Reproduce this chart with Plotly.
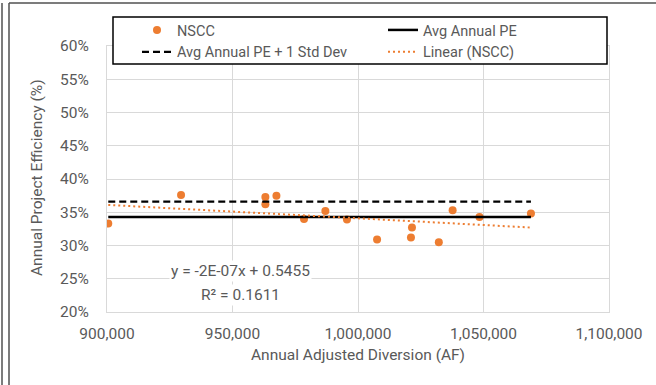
import plotly.graph_objects as go

# ---- data ----
x_nscc = [900500, 929500, 963100, 963100, 967500, 978500, 987000, 995600,
          1007600, 1021500, 1021100, 1032200, 1037700, 1048400, 1068900]
y_nscc = [0.333, 0.376, 0.373, 0.362, 0.375, 0.340, 0.352, 0.339,
          0.309, 0.327, 0.312, 0.305, 0.353, 0.343, 0.348]

avg_x = [900500, 1068900]
avg_pe = [0.343, 0.343]
avg_sd_x = [900500, 1068900]
avg_pe_sd = [0.366, 0.366]
trend_x = [900500, 1068900]
trend_y = [0.361, 0.327]

equation_text = "y = -2E-07x + 0.5455"
r2_text = "R² = 0.1611"

x_range = [900000, 1100000]
y_range = [0.20, 0.60]

# ---- layout geometry (pixels) ----
W, H = 656, 385
ML, MR, MT, MB = 107, 47, 46, 73
PW, PH = W - ML - MR, H - MT - MB


def px(xp):
    return (xp - ML) / PW


def py(yp):
    return (H - MB - yp) / PH


GRID = "#D9D9D9"
TXT = "#595959"
ORANGE = "#ED7D31"
FONT = "Roboto"

fig = go.Figure()
fig.add_trace(go.Scatter(x=x_nscc, y=y_nscc, mode="markers", name="NSCC",
                         marker=dict(color=ORANGE, size=8)))
fig.add_trace(go.Scatter(x=avg_x, y=avg_pe, mode="lines", name="Avg Annual PE",
                         line=dict(color="black", width=2.5)))
fig.add_trace(go.Scatter(x=avg_sd_x, y=avg_pe_sd, mode="lines",
                         name="Avg Annual PE + 1 Std Dev",
                         line=dict(color="black", width=2.25, dash="7px,4px")))
fig.add_trace(go.Scatter(x=trend_x, y=trend_y, mode="lines", name="Linear (NSCC)",
                         line=dict(color=ORANGE, width=2, dash="2px,3px")))

shapes = [
    # legend box
    dict(type="rect", xref="paper", yref="paper",
         x0=px(113), x1=px(607), y0=py(64), y1=py(17),
         fillcolor="white", line=dict(color="black", width=1.5), layer="above"),
    # outer screenshot frame lines
    dict(type="line", xref="paper", yref="paper",
         x0=px(2), x1=px(2), y0=py(3), y1=py(H + 5),
         line=dict(color="#505050", width=1.5)),
    dict(type="line", xref="paper", yref="paper",
         x0=px(9), x1=px(9), y0=py(3), y1=py(H + 5),
         line=dict(color="#505050", width=1.5)),
    dict(type="line", xref="paper", yref="paper",
         x0=px(9), x1=px(W + 5), y0=py(3), y1=py(3),
         line=dict(color="#505050", width=1.5)),
]

annotations = [
    dict(text=equation_text, xref="paper", yref="paper", x=px(240), y=py(271),
         showarrow=False, font=dict(family=FONT, size=15.5, color=TXT),
         bgcolor="white", borderpad=1, xanchor="center", yanchor="middle"),
    dict(text=r2_text, xref="paper", yref="paper", x=px(240), y=py(295),
         showarrow=False, font=dict(family=FONT, size=15.5, color=TXT),
         bgcolor="white", borderpad=1, xanchor="center", yanchor="middle"),
    dict(text="Annual Adjusted Diversion (AF)", xref="paper", yref="paper",
         x=px(358), y=py(355), showarrow=False,
         font=dict(family=FONT, size=15.5, color=TXT),
         xanchor="center", yanchor="middle"),
    dict(text="Annual Project Efficiency (%)", xref="paper", yref="paper",
         x=px(37), y=py(178), showarrow=False, textangle=-90,
         font=dict(family=FONT, size=15.5, color=TXT),
         xanchor="center", yanchor="middle"),
]

fig.update_layout(
    width=W, height=H,
    margin=dict(l=ML, r=MR, t=MT, b=MB),
    paper_bgcolor="white", plot_bgcolor="white",
    font=dict(family=FONT, color=TXT),
    showlegend=True,
    legend=dict(orientation="h", x=px(137), y=py(14), xanchor="left", yanchor="top",
                entrywidth=201, entrywidthmode="pixels",
                bgcolor="rgba(0,0,0,0)", borderwidth=0,
                font=dict(family=FONT, size=14.5, color=TXT),
                traceorder="normal", itemwidth=30),
    shapes=shapes,
    annotations=annotations,
    xaxis=dict(range=x_range, dtick=50000, tickformat=",", showgrid=True,
               gridcolor=GRID, gridwidth=1, zeroline=False,
               showline=True, linecolor=GRID, linewidth=1, mirror=True,
               ticks="", ticklabelstandoff=7,
               tickfont=dict(family=FONT, size=15.5, color=TXT)),
    yaxis=dict(range=y_range, dtick=0.05, tickformat=".0%", showgrid=True,
               gridcolor=GRID, gridwidth=1, zeroline=False,
               showline=True, linecolor=GRID, linewidth=1, mirror=True,
               ticks="", ticklabelstandoff=14,
               tickfont=dict(family=FONT, size=15.5, color=TXT)),
)

fig.write_html("out.html")
